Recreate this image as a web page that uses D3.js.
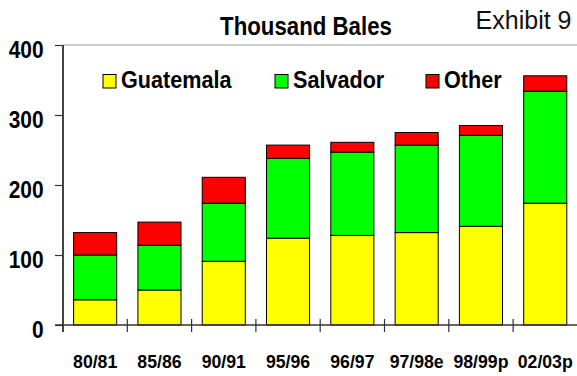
<!DOCTYPE html>
<html>
<head>
<meta charset="utf-8">
<script src="https://cdn.jsdelivr.net/npm/d3@7"></script>
<style>
  html, body { margin: 0; padding: 0; background: #fff; }
  svg { display: block; font-family: "Liberation Sans", Arial, sans-serif; }
</style>
</head>
<body>
<svg id="chart" width="577" height="376"></svg>
<script>
// Cotton production by season, thousand bales
const seasons   = ["80/81", "85/86", "90/91", "95/96", "96/97", "97/98e", "98/99p", "02/03p"];
const guatemala = [36, 50, 91, 124, 128, 132, 141, 174];
const salvador  = [64, 64, 83, 114, 119, 125, 130, 160];
const other     = [32, 33, 37, 19, 14, 18, 14, 22];
const seriesNames  = ["Guatemala", "Salvador", "Other"];
const seriesColors = ["#FFFF00", "#00FF00", "#FF0000"];
const yTicks = [0, 100, 200, 300, 400];

const svg = d3.select("#chart");
const plotLeft = 63, plotRight = 577.4, plotTop = 45, plotBottom = 325;

const x = d3.scaleBand().domain(seasons).range([plotLeft, plotRight])
  .paddingInner(0.33).paddingOuter(0.165);
const y = d3.scaleLinear().domain([0, 400]).range([plotBottom, plotTop]);
const color = d3.scaleOrdinal().domain(seriesNames).range(seriesColors);

const rows = seasons.map((s, i) => ({
  season: s, Guatemala: guatemala[i], Salvador: salvador[i], Other: other[i]
}));
const stacked = d3.stack().keys(seriesNames)(rows);

// top frame line at 400
svg.append("line")
  .attr("x1", plotLeft).attr("x2", 577).attr("y1", y(400)).attr("y2", y(400))
  .attr("stroke", "#999").attr("stroke-width", 1);

// stacked bars
svg.append("g").selectAll("g").data(stacked).join("g")
  .attr("fill", d => color(d.key))
  .selectAll("rect").data(d => d).join("rect")
  .attr("x", d => x(d.data.season))
  .attr("width", x.bandwidth())
  .attr("y", d => y(d[1]))
  .attr("height", d => y(d[0]) - y(d[1]))
  .attr("stroke", "#000").attr("stroke-width", 1);

// y axis
const yAxis = svg.append("g").attr("transform", `translate(${plotLeft},0)`)
  .call(d3.axisLeft(y).tickValues(yTicks).tickSize(8).tickFormat(d3.format("d")));
yAxis.select(".domain").remove();
yAxis.selectAll(".tick line").attr("stroke", "#333").attr("stroke-width", 1.2);
yAxis.selectAll(".tick text")
  .attr("x", -21.4).attr("y", 12.3).attr("dy", null)
  .attr("transform", "scale(0.91,1)")
  .attr("fill", "#000")
  .style("font-size", "23px").style("font-weight", "bold");
svg.append("line")
  .attr("x1", plotLeft).attr("x2", plotLeft).attr("y1", y(400)).attr("y2", plotBottom + 7)
  .attr("stroke", "#444").attr("stroke-width", 2);

// x axis
const xAxis = svg.append("g").attr("transform", `translate(0,${plotBottom})`)
  .call(d3.axisBottom(x).tickSize(0));
xAxis.select(".domain").remove();
xAxis.selectAll(".tick text")
  .attr("x", 0).attr("y", 43.3).attr("dy", null)
  .attr("transform", "scale(0.95,1)")
  .attr("fill", "#000")
  .style("font-size", "18.6px").style("font-weight", "bold");
svg.append("line")
  .attr("x1", plotLeft - 8).attr("x2", 577).attr("y1", plotBottom).attr("y2", plotBottom)
  .attr("stroke", "#333").attr("stroke-width", 1.6);
const gap = (x.step() - x.bandwidth()) / 2;
svg.append("g").selectAll("line").data(seasons.slice(1)).join("line")
  .attr("x1", d => x(d) - gap).attr("x2", d => x(d) - gap)
  .attr("y1", plotBottom - 6).attr("y2", plotBottom + 7)
  .attr("stroke", "#333").attr("stroke-width", 1.2);

// title
svg.append("text")
  .attr("transform", "translate(306,35) scale(0.873,1)")
  .attr("text-anchor", "middle")
  .style("font-size", "25.5px").style("font-weight", "bold")
  .text("Thousand Bales");
svg.append("text")
  .attr("x", 571.5).attr("y", 28.5)
  .attr("text-anchor", "end")
  .style("font-size", "25px").attr("fill", "#111")
  .text("Exhibit 9");

// legend
const legendX = [103, 275, 426];
const legend = svg.append("g").selectAll("g").data(seriesNames).join("g")
  .attr("transform", (d, i) => `translate(${legendX[i]},0)`);
legend.append("rect")
  .attr("x", 0).attr("y", 74.5).attr("width", 13).attr("height", 13.5)
  .attr("fill", d => color(d)).attr("stroke", "#000").attr("stroke-width", 1);
legend.append("text")
  .attr("transform", "translate(18,88) scale(0.9,1)")
  .style("font-size", "24px").style("font-weight", "bold")
  .text(d => d);
</script>
</body>
</html>
